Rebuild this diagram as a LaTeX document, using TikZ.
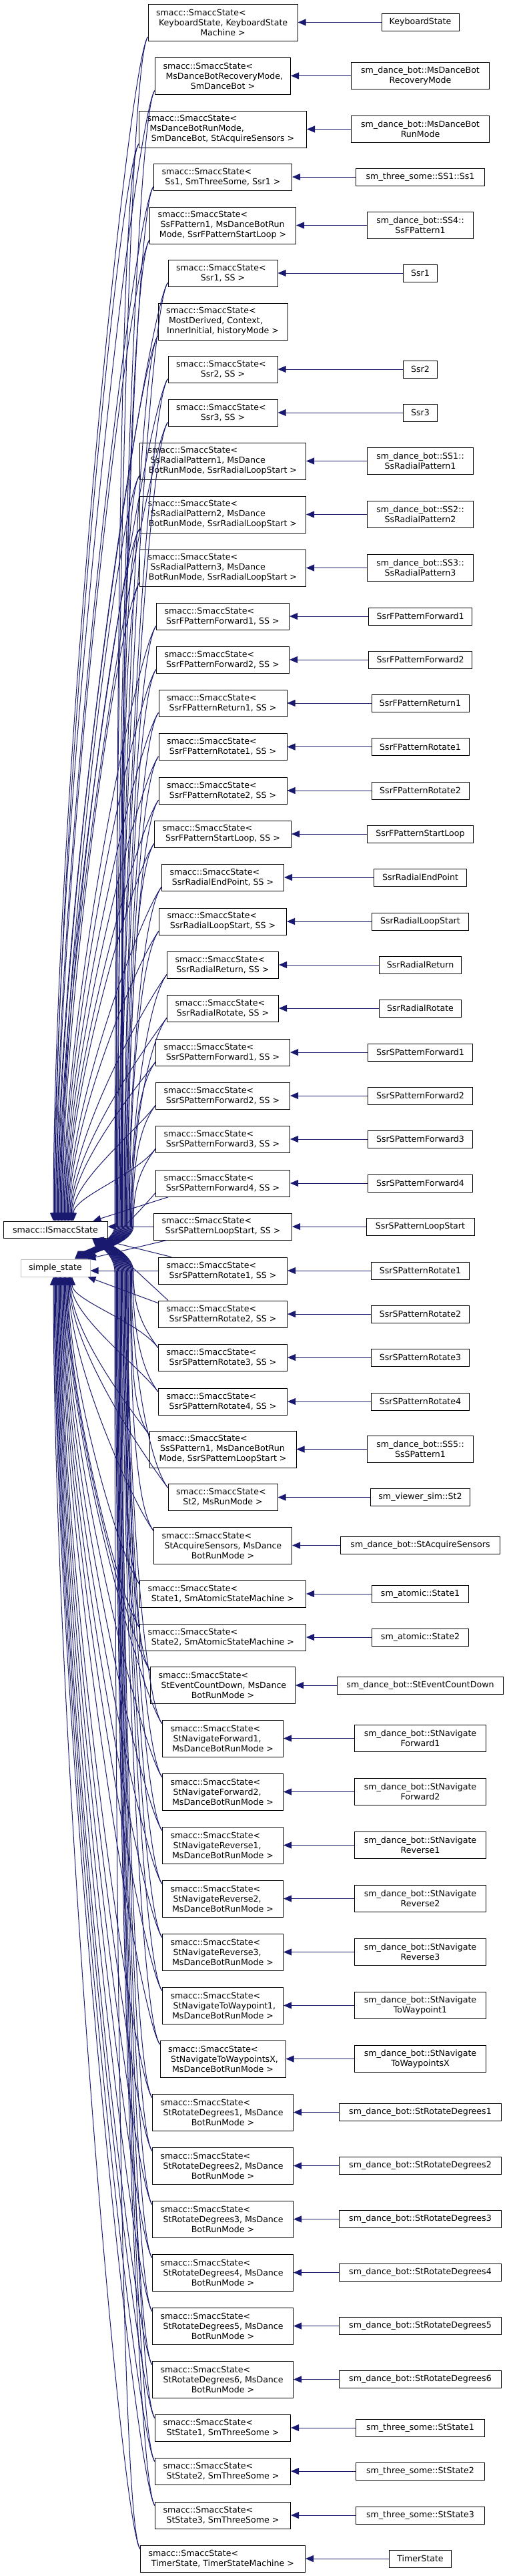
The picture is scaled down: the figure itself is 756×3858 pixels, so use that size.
\documentclass[tikz,border=0pt]{standalone}
\usepackage{fontspec}
\setmainfont{DejaVu Sans}
\usetikzlibrary{arrows.meta}
\definecolor{dblue}{RGB}{25,25,112}
\newcommand\Lline[1]{\hbox to \hsize{#1\hss}}
\newcommand\Cline[1]{\hbox to \hsize{\hss#1\hss}}
\newcommand\MB[4]{\node[mbox,minimum width=#3,minimum height=40] (m#1) at (334,#2) {\parbox{\dimexpr#3pt-24pt\relax}{\Lline{smacc::SmaccState<}\Cline{#4}}};}
\newcommand\MC[5]{\node[mbox,minimum width=#3,minimum height=55] (m#1) at (334,#2) {\parbox{\dimexpr#3pt-24pt\relax}{\Lline{smacc::SmaccState<}\Lline{\hspace{4pt}#4}\Cline{#5}}};}
\newcommand\RA[4]{\node[rbox,minimum width=#3,minimum height=26] (r#1) at (630,#2) {#4};}
\newcommand\RB[4]{\node[rbox,minimum width=#3,minimum height=40] (r#1) at (630,#2) {#4};}
\begin{document}
\begin{tikzpicture}[x=1pt,y=-1pt,
  mbox/.style={draw=black,line width=1pt,fill=white,inner sep=0pt,font=\fontsize{12.6}{15}\selectfont},
  rbox/.style={draw=black,line width=1pt,fill=white,inner xsep=6pt,inner ysep=0pt,align=center,font=\fontsize{12.6}{15}\selectfont},
  edge/.style={draw=dblue,line width=1pt,-{Triangle[length=12pt,width=10pt]}}]
\useasboundingbox (0,0) rectangle (756,3858);
\fill[white] (0,0) rectangle (756,3858);
% left nodes
\node[rbox,minimum width=156,minimum height=25] (ism) at (83,1841.5) {smacc::ISmaccState};
\node[rbox,draw=black!25,minimum width=104,minimum height=26] (ss) at (83,1899) {simple\_state};
% middle nodes
\MC{1}{33.5}{224}{KeyboardState, KeyboardState}{Machine >}
\MC{2}{113.5}{203}{MsDanceBotRecoveryMode,}{SmDanceBot >}
\MC{3}{193.5}{251}{MsDanceBotRunMode,}{SmDanceBot, StAcquireSensors >}
\MB{4}{265}{207}{Ss1, SmThreeSome, Ssr1 >}
\MC{5}{337.5}{219}{SsFPattern1, MsDanceBotRun}{Mode, SsrFPatternStartLoop >}
\MB{6}{409}{164}{Ssr1, SS >}
\MC{7}{481.5}{194}{MostDerived, Context,}{InnerInitial, historyMode >}
\MB{8}{553}{164}{Ssr2, SS >}
\MB{9}{618}{164}{Ssr3, SS >}
\MC{10}{690.5}{249}{SsRadialPattern1, MsDance}{BotRunMode, SsrRadialLoopStart >}
\MC{11}{770.5}{249}{SsRadialPattern2, MsDance}{BotRunMode, SsrRadialLoopStart >}
\MC{12}{850.5}{249}{SsRadialPattern3, MsDance}{BotRunMode, SsrRadialLoopStart >}
\MB{13}{923}{199}{SsrFPatternForward1, SS >}
\MB{14}{988}{199}{SsrFPatternForward2, SS >}
\MB{15}{1053}{192}{SsrFPatternReturn1, SS >}
\MB{16}{1118.5}{192}{SsrFPatternRotate1, SS >}
\MB{17}{1184}{192}{SsrFPatternRotate2, SS >}
\MB{18}{1249}{205}{SsrFPatternStartLoop, SS >}
\MB{19}{1314}{183}{SsrRadialEndPoint, SS >}
\MB{20}{1380}{191}{SsrRadialLoopStart, SS >}
\MB{21}{1445}{167}{SsrRadialReturn, SS >}
\MB{22}{1510}{167}{SsrRadialRotate, SS >}
\MB{23}{1576}{201}{SsrSPatternForward1, SS >}
\MB{24}{1641}{201}{SsrSPatternForward2, SS >}
\MB{25}{1706}{201}{SsrSPatternForward3, SS >}
\MB{26}{1772}{201}{SsrSPatternForward4, SS >}
\MB{27}{1837}{207}{SsrSPatternLoopStart, SS >}
\MB{28}{1903}{193}{SsrSPatternRotate1, SS >}
\MB{29}{1968}{193}{SsrSPatternRotate2, SS >}
\MB{30}{2033}{193}{SsrSPatternRotate3, SS >}
\MB{31}{2099}{193}{SsrSPatternRotate4, SS >}
\MC{32}{2170.5}{220}{SsSPattern1, MsDanceBotRun}{Mode, SsrSPatternLoopStart >}
\MB{33}{2242.5}{164}{St2, MsRunMode >}
\MC{34}{2314.5}{207}{StAcquireSensors, MsDance}{BotRunMode >}
\MB{35}{2387}{249}{State1, SmAtomicStateMachine >}
\MB{36}{2452}{249}{State2, SmAtomicStateMachine >}
\MC{37}{2524}{217}{StEventCountDown, MsDance}{BotRunMode >}
\MC{38}{2603.5}{181}{StNavigateForward1,}{MsDanceBotRunMode >}
\MC{39}{2683.5}{181}{StNavigateForward2,}{MsDanceBotRunMode >}
\MC{40}{2763.5}{181}{StNavigateReverse1,}{MsDanceBotRunMode >}
\MC{41}{2843.5}{181}{StNavigateReverse2,}{MsDanceBotRunMode >}
\MC{42}{2923.5}{181}{StNavigateReverse3,}{MsDanceBotRunMode >}
\MC{43}{3003.5}{181}{StNavigateToWaypoint1,}{MsDanceBotRunMode >}
\MC{44}{3083.5}{188}{StNavigateToWaypointsX,}{MsDanceBotRunMode >}
\MC{45}{3163.5}{211}{StRotateDegrees1, MsDance}{BotRunMode >}
\MC{46}{3243.5}{211}{StRotateDegrees2, MsDance}{BotRunMode >}
\MC{47}{3323.5}{211}{StRotateDegrees3, MsDance}{BotRunMode >}
\MC{48}{3403.5}{211}{StRotateDegrees4, MsDance}{BotRunMode >}
\MC{49}{3483.5}{211}{StRotateDegrees5, MsDance}{BotRunMode >}
\MC{50}{3563.5}{211}{StRotateDegrees6, MsDance}{BotRunMode >}
\MB{51}{3636}{203}{StState1, SmThreeSome >}
\MB{52}{3701}{203}{StState2, SmThreeSome >}
\MB{53}{3767}{203}{StState3, SmThreeSome >}
\MB{54}{3832}{247}{TimerState, TimerStateMachine >}
% right nodes
\RA{1}{33.5}{116}{KeyboardState}
\RB{2}{113.5}{207}{sm\_dance\_bot::MsDanceBot\\RecoveryMode}
\RB{3}{193.5}{207}{sm\_dance\_bot::MsDanceBot\\RunMode}
\RA{4}{265}{193}{sm\_three\_some::SS1::Ss1}
\RB{5}{337.5}{159}{sm\_dance\_bot::SS4::\\SsFPattern1}
\RA{6}{409}{51}{Ssr1}
\RA{8}{553}{51}{Ssr2}
\RA{9}{618}{51}{Ssr3}
\RB{10}{690.5}{159}{sm\_dance\_bot::SS1::\\SsRadialPattern1}
\RB{11}{770.5}{159}{sm\_dance\_bot::SS2::\\SsRadialPattern2}
\RB{12}{850.5}{159}{sm\_dance\_bot::SS3::\\SsRadialPattern3}
\RA{13}{923}{155}{SsrFPatternForward1}
\RA{14}{988}{155}{SsrFPatternForward2}
\RA{15}{1053}{146}{SsrFPatternReturn1}
\RA{16}{1118.5}{146}{SsrFPatternRotate1}
\RA{17}{1184}{146}{SsrFPatternRotate2}
\RA{18}{1249}{159}{SsrFPatternStartLoop}
\RA{19}{1314}{139}{SsrRadialEndPoint}
\RA{20}{1380}{145}{SsrRadialLoopStart}
\RA{21}{1445}{123}{SsrRadialReturn}
\RA{22}{1510}{123}{SsrRadialRotate}
\RA{23}{1576}{157}{SsrSPatternForward1}
\RA{24}{1641}{157}{SsrSPatternForward2}
\RA{25}{1706}{157}{SsrSPatternForward3}
\RA{26}{1772}{157}{SsrSPatternForward4}
\RA{27}{1837}{162}{SsrSPatternLoopStart}
\RA{28}{1903}{147}{SsrSPatternRotate1}
\RA{29}{1968}{147}{SsrSPatternRotate2}
\RA{30}{2033}{147}{SsrSPatternRotate3}
\RA{31}{2099}{147}{SsrSPatternRotate4}
\RB{32}{2170.5}{159}{sm\_dance\_bot::SS5::\\SsSPattern1}
\RA{33}{2242.5}{149}{sm\_viewer\_sim::St2}
\RA{34}{2314.5}{239}{sm\_dance\_bot::StAcquireSensors}
\RA{35}{2387}{145}{sm\_atomic::State1}
\RA{36}{2452}{145}{sm\_atomic::State2}
\RA{37}{2524}{249}{sm\_dance\_bot::StEventCountDown}
\RB{38}{2603.5}{197}{sm\_dance\_bot::StNavigate\\Forward1}
\RB{39}{2683.5}{197}{sm\_dance\_bot::StNavigate\\Forward2}
\RB{40}{2763.5}{197}{sm\_dance\_bot::StNavigate\\Reverse1}
\RB{41}{2843.5}{197}{sm\_dance\_bot::StNavigate\\Reverse2}
\RB{42}{2923.5}{197}{sm\_dance\_bot::StNavigate\\Reverse3}
\RB{43}{3003.5}{197}{sm\_dance\_bot::StNavigate\\ToWaypoint1}
\RB{44}{3083.5}{197}{sm\_dance\_bot::StNavigate\\ToWaypointsX}
\RA{45}{3163.5}{243}{sm\_dance\_bot::StRotateDegrees1}
\RA{46}{3243.5}{243}{sm\_dance\_bot::StRotateDegrees2}
\RA{47}{3323.5}{243}{sm\_dance\_bot::StRotateDegrees3}
\RA{48}{3403.5}{243}{sm\_dance\_bot::StRotateDegrees4}
\RA{49}{3483.5}{243}{sm\_dance\_bot::StRotateDegrees5}
\RA{50}{3563.5}{243}{sm\_dance\_bot::StRotateDegrees6}
\RA{51}{3636}{193}{sm\_three\_some::StState1}
\RA{52}{3701}{193}{sm\_three\_some::StState2}
\RA{53}{3767}{193}{sm\_three\_some::StState3}
\RA{54}{3832}{93}{TimerState}
% right -> middle edges
\foreach \k in {1,2,3,4,5,6,8,9,10,11,12,13,14,15,16,17,18,19,20,21,22,23,24,25,26,27,28,29,30,31,32,33,34,35,36,37,38,39,40,41,42,43,44,45,46,47,48,49,50,51,52,53,54}
  \draw[edge] (r\k.west) -- (r\k.west -| m\k.east);
% upper nodes -> ISmaccState (top) and simple_state (top right)
\foreach \k/\yb in {1/61,2/141,3/221,4/285,5/365,6/429,7/509,8/573,9/638,10/718,11/798,12/878,13/943,14/1008,15/1073,16/1138.5,17/1204,18/1269,19/1334,20/1400,21/1465,22/1530,23/1596,24/1661,25/1726}{
  \pgfmathsetmacro\ta{80+30*(\k-1)/24}
  \pgfmathsetmacro\bx{172+28*(\k-1)/24}
  \pgfmathsetmacro\tb{112+21*(\k-1)/24}
  \pgfmathsetmacro\Ha{0.35*(1829-\yb)}
  \pgfmathsetmacro\Hb{0.4*(1836-\yb)}
  \draw[edge] ([yshift=6pt]m\k.south west) .. controls +(-30,40) and +(0,-\Ha) .. (\ta,0 |- ism.north);
  \draw[edge] ([yshift=6pt]m\k.south west) .. controls +(-30,40) and +(0,-\Hb) .. (\bx,1836) .. controls +(0,25) and +(12,-12) .. (\tb,0 |- ss.north);
}
% nodes close to the left pair
\draw[edge] ([xshift=20pt]m26.south west) -- ([xshift=-22pt]ism.north east);
\draw[edge] ([yshift=6pt]m26.south west) .. controls +(-30,35) and +(32,-25) .. ([xshift=-4pt]ss.north east);
\draw[edge] (m27.west) -- (m27.west -| ism.east);
\draw[edge] ([xshift=20pt]m27.south west) -- ([xshift=-4pt]ss.north east);
\draw[edge] (m28.west) -- (m28.west -| ss.east);
\draw[edge] ([xshift=20pt]m28.north west) -- ([xshift=-18pt]ism.south east);
\draw[edge] ([yshift=-4pt]m29.north west) -- ([xshift=-4pt]ss.south east);
\draw[edge] ([xshift=15pt]m29.north west) -- ([xshift=-10pt]ism.south east);
% lower nodes -> simple_state (bottom) and ISmaccState (bottom right)
\foreach \k/\yt in {30/2013,31/2079,32/2143,33/2222.5,34/2287,35/2367,36/2432,37/2496.5,38/2576,39/2656,40/2736,41/2816,42/2896,43/2976,44/3056,45/3136,46/3216,47/3296,48/3376,49/3456,50/3536,51/3616,52/3681,53/3747,54/3812}{
  \pgfmathsetmacro\tc{108-28*(\k-30)/24}
  \pgfmathsetmacro\bx{200-28*(\k-30)/24}
  \pgfmathsetmacro\td{156-18*(\k-30)/24}
  \pgfmathsetmacro\Hc{0.35*(\yt-1912)}
  \pgfmathsetmacro\Hd{0.4*(\yt-1905)}
  \draw[edge] ([yshift=-6pt]m\k.north west) .. controls +(-30,-40) and +(0,\Hc) .. (\tc,0 |- ss.south);
  \draw[edge] ([yshift=-6pt]m\k.north west) .. controls +(-30,-40) and +(0,\Hd) .. (\bx,1905) .. controls +(0,-25) and +(12,12) .. (\td,0 |- ism.south);
}
\end{tikzpicture}
\end{document}
